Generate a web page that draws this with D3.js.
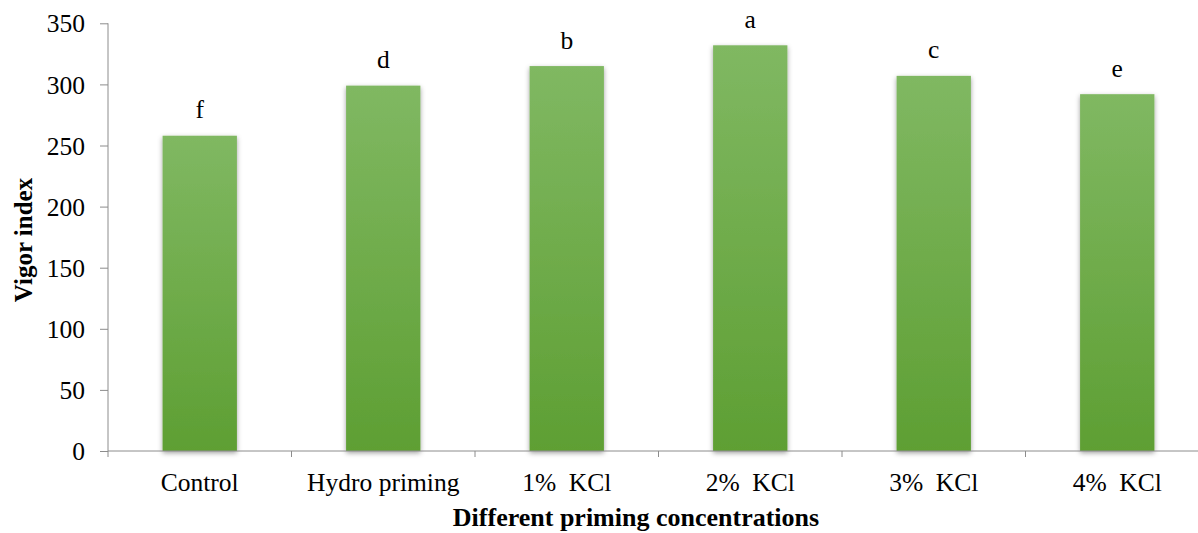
<!DOCTYPE html>
<html>
<head>
<meta charset="utf-8">
<script src="https://cdn.jsdelivr.net/npm/d3@7"></script>
<style>
  html, body { margin: 0; padding: 0; background: #fff; overflow: hidden; }
  svg { display: block; }
  text { font-family: "Liberation Serif", "Times New Roman", serif; fill: #000; }
</style>
</head>
<body>
<svg id="chart" width="1198" height="533"></svg>
<script>
// Seed vigor index by priming treatment
const categories = ["Control", "Hydro priming", "1% KCl", "2% KCl", "3% KCl", "4% KCl"];
const vigorIndex = [258, 299, 315, 332, 307, 292];
const letters = ["f", "d", "b", "a", "c", "e"];
const yTicks = [0, 50, 100, 150, 200, 250, 300, 350];

const svg = d3.select("#chart");
const plotLeft = 108, plotTop = 23.3, plotBottom = 451, catWidth = 183.5;
const labelSize = 25.5;

const x = d3.scaleBand()
  .domain(categories)
  .range([plotLeft, plotLeft + catWidth * categories.length])
  .paddingInner(0.595)
  .paddingOuter(0.2975);

const y = d3.scaleLinear().domain([0, 350]).range([plotBottom, plotTop]);

const defs = svg.append("defs");
const grad = defs.append("linearGradient")
  .attr("id", "barFill").attr("x1", 0).attr("y1", 0).attr("x2", 0).attr("y2", 1);
grad.append("stop").attr("offset", "0%").attr("stop-color", "#80b862");
grad.append("stop").attr("offset", "100%").attr("stop-color", "#5e9f33");

const shadow = defs.append("filter").attr("id", "barShadow")
  .attr("x", "-30%").attr("y", "-10%").attr("width", "160%").attr("height", "120%");
shadow.append("feDropShadow")
  .attr("dx", 0).attr("dy", 2).attr("stdDeviation", 2.5)
  .attr("flood-color", "#000").attr("flood-opacity", 0.38);

// Bars
svg.append("g").selectAll("rect")
  .data(categories)
  .join("rect")
  .attr("x", d => x(d))
  .attr("y", (d, i) => y(vigorIndex[i]))
  .attr("width", x.bandwidth())
  .attr("height", (d, i) => y(0) - y(vigorIndex[i]))
  .attr("fill", "url(#barFill)")
  .attr("filter", "url(#barShadow)");

// Significance letters
svg.append("g").selectAll("text")
  .data(categories)
  .join("text")
  .attr("x", d => x(d) + x.bandwidth() / 2)
  .attr("y", (d, i) => y(vigorIndex[i]) - 17.5)
  .attr("text-anchor", "middle")
  .attr("font-size", labelSize)
  .text((d, i) => letters[i]);

const axisColor = "#8c8c8c";

// Y axis
const yAxis = svg.append("g")
  .attr("transform", `translate(${plotLeft},0)`)
  .call(d3.axisLeft(y).tickValues(yTicks).tickSize(8).tickPadding(15));
yAxis.select(".domain").attr("stroke", axisColor).attr("d", `M0,${plotTop}V${plotBottom}`);
yAxis.selectAll(".tick line").attr("stroke", axisColor);
yAxis.selectAll(".tick text")
  .attr("font-family", "Liberation Serif, serif")
  .attr("font-size", labelSize).attr("fill", "#000")
  .attr("dy", "0.34em");

// X axis with ticks between categories
const xAxis = svg.append("g").attr("transform", `translate(0,${plotBottom})`);
xAxis.append("line")
  .attr("x1", plotLeft).attr("x2", plotLeft + catWidth * categories.length)
  .attr("stroke", axisColor);
const bounds = d3.range(categories.length + 1).map(i => plotLeft + i * catWidth);
xAxis.selectAll("line.tick")
  .data(bounds)
  .join("line")
  .attr("class", "tick")
  .attr("x1", d => d).attr("x2", d => d)
  .attr("y1", 0).attr("y2", 6)
  .attr("stroke", axisColor);
xAxis.selectAll("text")
  .data(categories)
  .join("text")
  .attr("x", d => x(d) + x.bandwidth() / 2)
  .attr("y", 40)
  .attr("text-anchor", "middle")
  .attr("font-size", labelSize)
  .text(d => d.replace(/% /, "%\u00a0 "));

// Axis titles
svg.append("text")
  .attr("x", 636)
  .attr("y", 526)
  .attr("text-anchor", "middle")
  .attr("font-size", 26)
  .attr("font-weight", "bold")
  .text("Different priming concentrations");

svg.append("text")
  .attr("transform", `translate(32,240) rotate(-90)`)
  .attr("text-anchor", "middle")
  .attr("font-size", 25)
  .attr("font-weight", "bold")
  .text("Vigor index");
</script>
</body>
</html>
